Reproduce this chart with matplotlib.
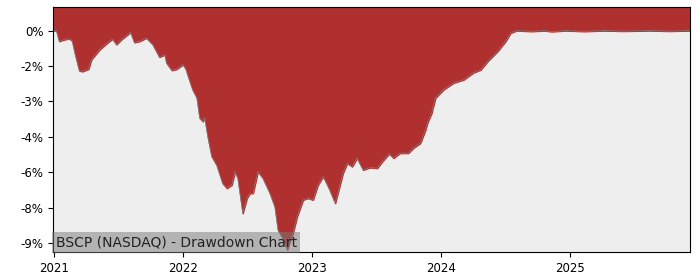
import matplotlib
matplotlib.use("Agg")
import matplotlib.pyplot as plt
import matplotlib.dates as mdates
import pandas as pd

# drawdown (%)
dates = [
    "2020-12-29", "2021-01-07", "2021-01-15", "2021-01-29", "2021-02-13", "2021-02-21",
    "2021-03-02", "2021-03-13", "2021-03-22", "2021-04-08", "2021-04-16", "2021-05-09",
    "2021-05-29", "2021-06-15", "2021-06-26", "2021-07-10", "2021-08-05", "2021-08-16",
    "2021-08-31", "2021-09-19", "2021-10-07", "2021-10-26", "2021-11-10", "2021-11-15",
    "2021-11-30", "2021-12-14", "2021-12-31", "2022-01-08", "2022-01-20", "2022-01-28",
    "2022-02-09", "2022-02-17", "2022-02-26", "2022-03-03", "2022-03-12", "2022-03-23",
    "2022-04-06", "2022-04-23", "2022-05-05", "2022-05-19", "2022-05-28", "2022-06-05",
    "2022-06-19", "2022-07-01", "2022-07-09", "2022-07-18", "2022-08-01", "2022-08-15",
    "2022-09-04", "2022-09-18", "2022-09-27", "2022-10-08", "2022-10-23", "2022-10-31",
    "2022-11-08", "2022-11-20", "2022-12-07", "2022-12-21", "2023-01-04", "2023-01-18",
    "2023-02-02", "2023-02-19", "2023-03-08", "2023-03-30", "2023-04-11", "2023-04-25",
    "2023-05-09", "2023-05-26", "2023-06-15", "2023-07-05", "2023-07-19", "2023-08-08",
    "2023-08-20", "2023-09-08", "2023-10-01", "2023-10-15", "2023-11-04", "2023-11-19",
    "2023-11-24", "2023-12-06", "2023-12-17", "2024-01-09", "2024-02-06", "2024-03-06",
    "2024-04-03", "2024-04-23", "2024-05-13", "2024-06-10", "2024-07-03", "2024-07-17",
    "2024-08-03", "2024-09-15", "2024-10-20", "2024-11-10", "2024-12-20", "2025-02-10",
    "2025-04-08", "2025-06-01", "2025-08-15", "2025-10-10", "2025-12-08",
]
drawdown = [
    0.0, 0.0, -0.45, -0.38, -0.34, -0.45,
    -1.06, -1.70, -1.73, -1.63, -1.23, -0.81,
    -0.55, -0.35, -0.59, -0.38, -0.07, -0.50,
    -0.45, -0.31, -0.59, -1.12, -1.02, -1.37,
    -1.68, -1.63, -1.44, -1.60, -2.15, -2.50,
    -2.85, -3.70, -3.85, -3.68, -4.50, -5.33,
    -5.69, -6.47, -6.68, -6.54, -5.97, -6.25,
    -7.74, -7.10, -6.90, -6.89, -5.97, -6.25,
    -6.89, -7.46, -8.45, -8.73, -9.28, -8.90,
    -8.59, -7.88, -7.17, -7.10, -7.17, -6.54,
    -6.18, -6.70, -7.31, -6.04, -5.62, -5.76,
    -5.40, -5.90, -5.80, -5.83, -5.55, -5.22,
    -5.40, -5.19, -5.19, -4.98, -4.77, -4.20,
    -3.92, -3.50, -2.85, -2.50, -2.22, -2.08,
    -1.78, -1.66, -1.30, -0.88, -0.45, -0.10,
    0.0, -0.03, 0.0, -0.04, 0.0, -0.03,
    0.0, -0.02, 0.0, -0.02, 0.0,
]

x = pd.to_datetime(dates)
top = 1.0

fig, ax = plt.subplots(figsize=(7, 2.8), dpi=100)
fig.subplots_adjust(left=0.076, right=0.986, top=0.975, bottom=0.10)
ax.set_facecolor("#eeeeee")

ax.fill_between(x, drawdown, top, color="#b03030")
ax.plot(x, drawdown, color="#808080", lw=0.5)

ax.set_ylim(-9.38, top)
ax.set_xlim(x[0], x[-1])
ax.set_yticks([0, -1.5, -3, -4.5, -6, -7.5, -9])
ax.yaxis.set_major_formatter(plt.FuncFormatter(lambda v, p: "{:.0f}%".format(v)))
ax.xaxis.set_major_locator(mdates.YearLocator())
ax.xaxis.set_major_formatter(mdates.DateFormatter("%Y"))
ax.tick_params(labelsize=8.5)

ax.text(0.004, 0.012, "BSCP (NASDAQ) - Drawdown Chart", transform=ax.transAxes,
        fontsize=10, color="#222222", ha="left", va="bottom",
        bbox=dict(facecolor="#7a7a7a", alpha=0.5, edgecolor="none", pad=2.5))

fig.savefig("out.png")
